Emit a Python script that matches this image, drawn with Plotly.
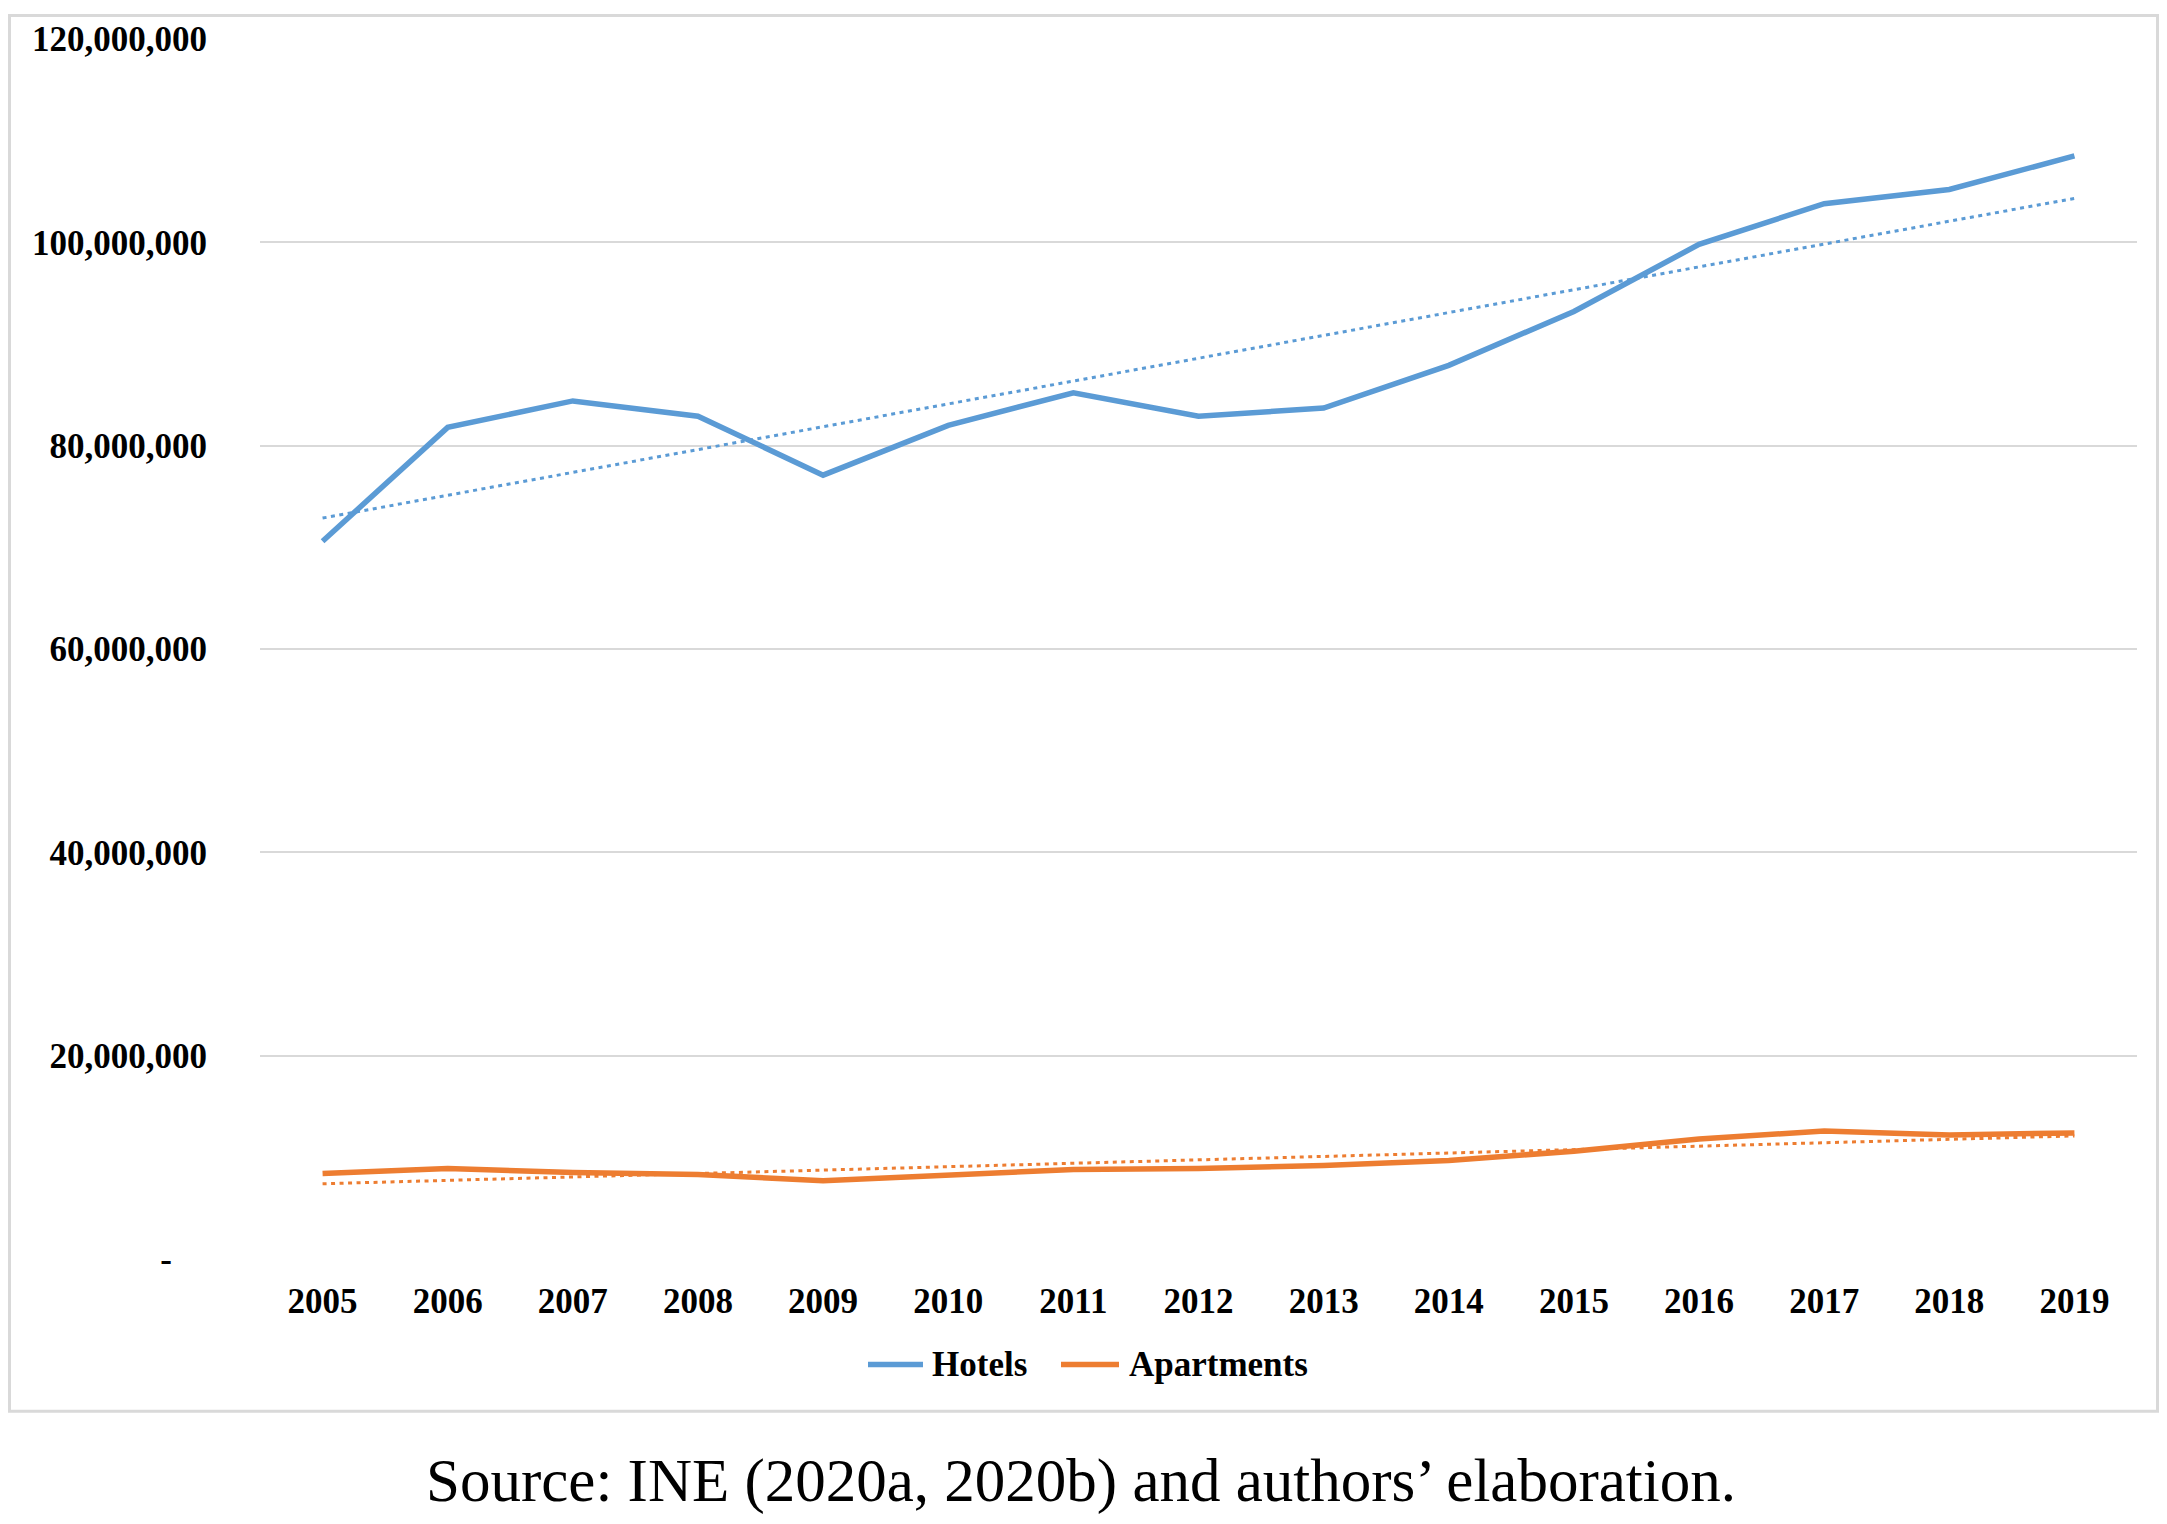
import numpy as np
import plotly.graph_objects as go

years = [2005, 2006, 2007, 2008, 2009, 2010, 2011, 2012, 2013, 2014, 2015, 2016, 2017, 2018, 2019]
hotels = [70.6e6, 81.8e6, 84.4e6, 82.9e6, 77.1e6, 82.0e6, 85.2e6, 82.9e6, 83.7e6, 87.9e6,
          93.2e6, 99.8e6, 103.8e6, 105.2e6, 108.5e6]
apartments = [8.4e6, 8.9e6, 8.5e6, 8.3e6, 7.7e6, 8.3e6, 8.8e6, 8.9e6, 9.2e6, 9.7e6,
              10.6e6, 11.8e6, 12.6e6, 12.2e6, 12.4e6]
series_names = ["Hotels", "Apartments"]
y_ticks = [0, 20e6, 40e6, 60e6, 80e6, 100e6, 120e6]
y_ticktext = ["-\u00a0\u00a0\u00a0\u00a0", "20,000,000", "40,000,000", "60,000,000",
              "80,000,000", "100,000,000", "120,000,000"]
source_text = "Source: INE (2020a, 2020b) and authors\u2019 elaboration."

BLUE = "#5B9BD5"
ORANGE = "#ED7D31"
TREND_DASH = "4px,4.5px"

x = np.array(years, dtype=float)
h_fit = np.polyval(np.polyfit(x, hotels, 1), x)
a_fit = np.polyval(np.polyfit(x, apartments, 1), x)

fig = go.Figure()
fig.add_trace(go.Scatter(x=years, y=h_fit, mode="lines", showlegend=False,
                         line=dict(color=BLUE, width=3, dash=TREND_DASH), hoverinfo="skip"))
fig.add_trace(go.Scatter(x=years, y=a_fit, mode="lines", showlegend=False,
                         line=dict(color=ORANGE, width=3, dash=TREND_DASH), hoverinfo="skip"))
fig.add_trace(go.Scatter(x=years, y=hotels, mode="lines", name=series_names[0],
                         showlegend=False, line=dict(color=BLUE, width=5.5)))
fig.add_trace(go.Scatter(x=years, y=apartments, mode="lines", name=series_names[1],
                         showlegend=False, line=dict(color=ORANGE, width=5.5)))

tick_font = dict(family="Liberation Serif", size=35, color="black", weight="bold")

# page has an 8px body margin; figure coordinates = screen - 8
OFF = 8
W, H = 2167 - 2 * OFF, 1524 - 2 * OFF
L = 260 - OFF
T = 33 - OFF
plot_bottom = 1259 - OFF
plot_right = 2137 - OFF
R = W - plot_right
B = H - plot_bottom
pw, ph = W - L - R, H - T - B

def px_x(p):
    return (p - OFF - L) / pw

def px_y(p):
    return (plot_bottom - (p - OFF)) / ph

fig.update_layout(
    width=W, height=H,
    margin=dict(l=L, r=R, t=T, b=B),
    paper_bgcolor="white", plot_bgcolor="white",
    xaxis=dict(range=[2004.5, 2019.5], tickvals=years, ticktext=[str(v) for v in years],
               showgrid=False, zeroline=False, showline=False, ticks="",
               tickfont=tick_font, ticklabelstandoff=18, fixedrange=True),
    yaxis=dict(range=[0, 120e6], tickvals=y_ticks, ticktext=y_ticktext,
               showgrid=True, gridcolor="#D9D9D9", gridwidth=2, zeroline=False,
               showline=False, ticks="", tickfont=tick_font, ticklabelstandoff=52,
               fixedrange=True),
    showlegend=False,
)

# chart-area border (kept inside the figure)
fig.add_shape(type="rect", xref="paper", yref="paper",
              x0=px_x(OFF + 1.5), x1=px_x(2167 - OFF - 1.5), y0=px_y(1412), y1=px_y(OFF + 1.5),
              line=dict(color="#D9D9D9", width=3), fillcolor="rgba(0,0,0,0)", layer="below")

# legend drawn manually (long line keys like the reference)
leg_y = px_y(1365)
legend_items = [(series_names[0], BLUE, 868, 923, 930), (series_names[1], ORANGE, 1061, 1119, 1127)]
for name, col, lx0, lx1, tx in legend_items:
    fig.add_shape(type="line", xref="paper", yref="paper",
                  x0=px_x(lx0), x1=px_x(lx1), y0=leg_y, y1=leg_y,
                  line=dict(color=col, width=5.5))
    fig.add_annotation(text=name, xref="paper", yref="paper", x=px_x(tx), y=leg_y,
                       xanchor="left", yanchor="middle", showarrow=False, font=tick_font)

fig.add_annotation(text=source_text, xref="paper", yref="paper",
                   x=px_x(1081), y=px_y(1482), xanchor="center", yanchor="middle",
                   showarrow=False, font=dict(family="Liberation Serif", size=61, color="black"))

fig.write_html("out.html")
